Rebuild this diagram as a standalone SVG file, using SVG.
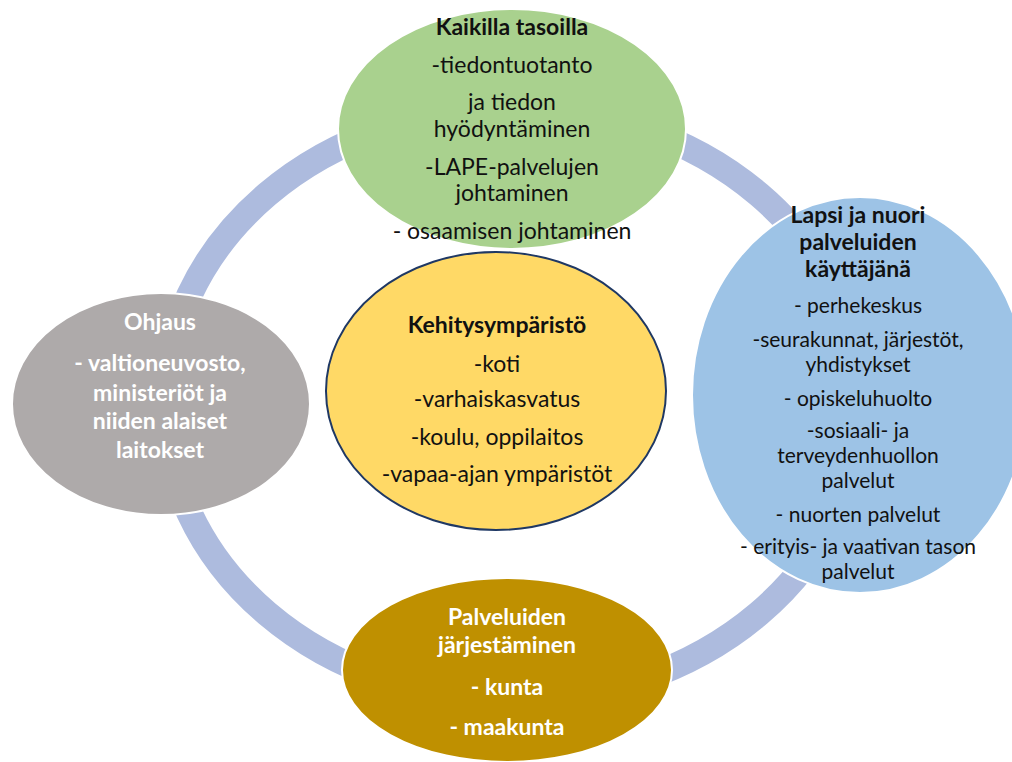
<svg xmlns="http://www.w3.org/2000/svg" width="1012" height="762" viewBox="0 0 1012 762">
<style>
.t{font-family:Lato,"Liberation Sans",sans-serif;font-size:23px;text-anchor:middle;fill:#111}
.s{font-size:21px}
.b{font-weight:bold}
.w{fill:#fff}
.node{stroke:#fff;stroke-width:2}
</style>
<rect width="1012" height="762" fill="#fff"/>
<g id="connectors">
<ellipse cx="513" cy="404" rx="348" ry="296" fill="none" stroke="#ADBBDE" stroke-width="26"/>
</g>
<g id="node-ohjaus">
<ellipse class="node" cx="161" cy="404" rx="149" ry="111" fill="#AEAAAA"/>
<text class="t b w" x="160" y="330">Ohjaus</text>
<text class="t b w" x="160" y="371">- valtioneuvosto,</text>
<text class="t b w" x="160" y="401">ministeriöt ja</text>
<text class="t b w" x="160" y="429">niiden alaiset</text>
<text class="t b w" x="160" y="458">laitokset</text>
</g>
<g id="node-palveluiden">
<ellipse class="node" cx="507" cy="670" rx="165" ry="92" fill="#BF9000"/>
<text class="t b w" x="507" y="625">Palveluiden</text>
<text class="t b w" x="507" y="653">järjestäminen</text>
<text class="t b w" x="507" y="695">- kunta</text>
<text class="t b w" x="507" y="735">- maakunta</text>
</g>
<g id="node-lapsi">
<ellipse class="node" cx="860" cy="395" rx="168" ry="198" fill="#9DC3E6"/>
<text class="t b" x="858" y="223">Lapsi ja nuori</text>
<text class="t b" x="858" y="250">palveluiden</text>
<text class="t b" x="858" y="277">käyttäjänä</text>
<text class="t s" x="858" y="313">- perhekeskus</text>
<text class="t s" x="858" y="347">-seurakunnat, järjestöt,</text>
<text class="t s" x="858" y="372">yhdistykset</text>
<text class="t s" x="858" y="406">- opiskeluhuolto</text>
<text class="t s" x="858" y="438">-sosiaali- ja</text>
<text class="t s" x="858" y="463">terveydenhuollon</text>
<text class="t s" x="858" y="488">palvelut</text>
<text class="t s" x="858" y="522">- nuorten palvelut</text>
<text class="t s" x="858" y="554">- erityis- ja vaativan tason</text>
<text class="t s" x="858" y="579">palvelut</text>
</g>
<g id="node-kaikilla">
<ellipse class="node" cx="512" cy="129" rx="174" ry="120" fill="#A9D18E"/>
<text class="t b" x="512" y="35">Kaikilla tasoilla</text>
<text class="t" x="512" y="73">-tiedontuotanto</text>
<text class="t" x="512" y="110">ja tiedon</text>
<text class="t" x="512" y="137">hyödyntäminen</text>
<text class="t" x="512" y="175">-LAPE-palvelujen</text>
<text class="t" x="512" y="201">johtaminen</text>
<text class="t" x="512" y="239">- osaamisen johtaminen</text>
</g>
<g id="node-kehitys">
<ellipse cx="496" cy="391" rx="170" ry="139" fill="#FFD966" stroke="#1F3864" stroke-width="2"/>
<text class="t b" x="497" y="333">Kehitysympäristö</text>
<text class="t" x="497" y="372">-koti</text>
<text class="t" x="497" y="407">-varhaiskasvatus</text>
<text class="t" x="497" y="445">-koulu, oppilaitos</text>
<text class="t" x="497" y="482">-vapaa-ajan ympäristöt</text>
</g>
</svg>
